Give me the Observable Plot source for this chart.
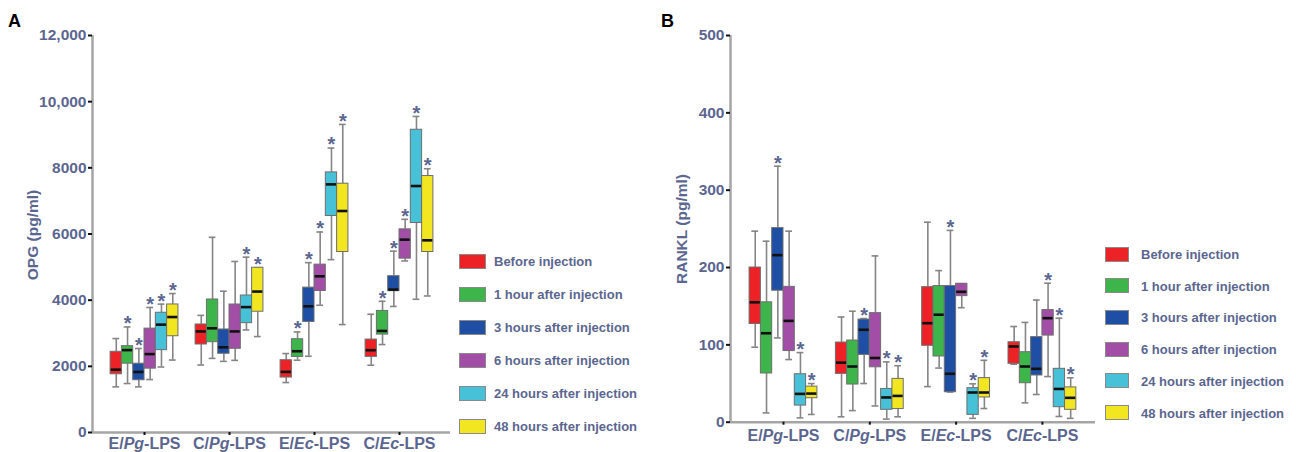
<!DOCTYPE html>
<html>
<head>
<meta charset="utf-8">
<script src="https://cdn.jsdelivr.net/npm/d3@7"></script>
<script src="https://cdn.jsdelivr.net/npm/@observablehq/plot@0.6"></script>
<style>
  html, body { margin: 0; padding: 0; background: #fff; }
  body { width: 1296px; height: 452px; position: relative; overflow: hidden;
         font-family: "Liberation Sans", Arial, Helvetica, sans-serif; }
  .abs { position: absolute; }
  .panel-letter { font-weight: bold; font-size: 18px; color: #000; line-height: 1; }
  .ytitle { font-weight: bold; font-size: 15.5px; color: #5b6690; white-space: nowrap;
            transform: translate(-50%, -50%) rotate(-90deg); line-height: 1; }
  .sw { border: 1px solid #8a8a8a; box-sizing: border-box; }
  .lt { font-weight: bold; font-size: 13px; color: #5b6690; white-space: nowrap; line-height: 1;
        transform: translateY(-50%); }
</style>
</head>
<body>
<script>
// ---------- data ----------
const groups = ["E/Pg-LPS", "C/Pg-LPS", "E/Ec-LPS", "C/Ec-LPS"];
const times = ["Before injection", "1 hour after injection", "3 hours after injection",
               "6 hours after injection", "24 hours after injection", "48 hours after injection"];
const timeColors = ["#ec2227", "#3db54a", "#1f4fa4", "#a24ea6", "#46c1d7", "#f2e620"];

// OPG (pg/ml), rows = groups, columns = time points
const opgTicks = [0, 2000, 4000, 6000, 8000, 10000, 12000];
const opgTickLabels = ["0", "2000", "4000", "6000", "8000", "10,000", "12,000"];
const opgLow = [
  [1380, 1480, 1380, 1600, 1980, 2190],
  [2040, 2240, 2150, 2180, 3100, 2900],
  [1510, 2185, 2305, 3846, 5225, 3262],
  [2034, 2658, 3810, 5185, 4027, 4127]];
const opgQ1 = [
  [1760, 2080, 1580, 1930, 2490, 2910],
  [2660, 2730, 2380, 2530, 3305, 3650],
  [1661, 2285, 3342, 4278, 6544, 5456],
  [2285, 2960, 4271, 5255, 6332, 5456]];
const opgMedian = [
  [1900, 2490, 1830, 2370, 3260, 3490],
  [3055, 3150, 2575, 3055, 3790, 4260],
  [1832, 2456, 3815, 4721, 7500, 6695],
  [2487, 3070, 4320, 5829, 7450, 5809]];
const opgQ3 = [
  [2440, 2610, 2080, 3140, 3620, 3870],
  [3265, 4020, 3114, 3869, 4141, 4980],
  [2185, 2819, 4379, 5074, 7862, 7520],
  [2809, 3675, 4725, 6141, 9151, 7752]];
const opgHigh = [
  [2840, 3190, 2540, 3780, 3880, 4200],
  [3540, 5900, 4270, 5170, 5300, 4980],
  [2386, 3040, 5134, 6060, 8597, 9312],
  [3574, 3966, 5481, 6443, 9554, 7973]];
const opgStar = [
  [0, 1, 1, 1, 1, 1],
  [0, 0, 0, 0, 1, 1],
  [0, 1, 1, 1, 1, 1],
  [0, 1, 1, 1, 1, 1]];

// RANKL (pg/ml)
const ranklTicks = [0, 100, 200, 300, 400, 500];
const ranklTickLabels = ["0", "100", "200", "300", "400", "500"];
const ranklLow = [
  [97, 12, 109, 81, 5.6, 10],
  [7, 15, 50, 21, 4, 7],
  [46, 70, 39, 148, 5, 17.7],
  [75, 25, 35.8, 59, 7.4, 5]];
const ranklQ1 = [
  [127, 63, 170, 92, 21.5, 31],
  [62.5, 48.7, 87, 71, 16, 17],
  [98.8, 85, 38.8, 163, 9.5, 32],
  [75.5, 50.4, 60.4, 112, 19.4, 16]];
const ranklMedian = [
  [155, 115, 216, 131, 36.6, 37],
  [77, 72, 119.5, 83, 32, 34],
  [128, 139, 62.6, 168.6, 38.4, 38.4],
  [97.9, 72, 69, 134.5, 43, 31.5]];
const ranklQ3 = [
  [200, 155, 251, 175, 62, 46],
  [103, 105.6, 132.7, 141, 43, 56],
  [174.6, 176, 176, 179, 44, 57],
  [103.4, 90.5, 110, 145, 69, 45]];
const ranklHigh = [
  [247, 234, 331, 247, 90, 50],
  [136, 143.5, 134, 215, 78, 73],
  [258.6, 196, 248, 179, 49.6, 80],
  [123.7, 129, 158, 179.7, 134.5, 57.4]];
const ranklStar = [
  [0, 0, 1, 0, 1, 1],
  [0, 0, 1, 0, 1, 1],
  [0, 0, 1, 0, 1, 1],
  [0, 0, 0, 1, 1, 1]];

// ---------- build ----------
const slate = "#5b6690";

function buildRows(lo, q1, med, q3, hi, star) {
  const out = [];
  groups.forEach((g, gi) => times.forEach((t, ti) => out.push({
    g, gi, t, ti, lo: lo[gi][ti], q1: q1[gi][ti], med: med[gi][ti],
    q3: q3[gi][ti], hi: hi[gi][ti], star: star[gi][ti]
  })));
  return out;
}

function panel(o) {
  const {data, yDomain, ticks, tickLabels, width, marginLeft, marginRight, marginTop,
         marginBottom, xDomain, boxW, tickPaddingX} = o;
  const xc = d => d.gi + (d.ti - 2.5) * boxW;
  const capW = boxW * 0.3;
  const svg = Plot.plot({
    width, height: 452, marginLeft, marginRight, marginTop, marginBottom,
    style: {fontFamily: "'Liberation Sans', Arial, Helvetica, sans-serif", background: "transparent", overflow: "visible"},
    x: {type: "linear", domain: xDomain},
    y: {type: "linear", domain: yDomain},
    color: {domain: times, range: timeColors},
    marks: [
      Plot.ruleX([xDomain[0]], {y1: yDomain[0], y2: yDomain[1], stroke: "#a5a5a5", strokeWidth: 2.5}),
      Plot.ruleY([yDomain[0]], {x1: xDomain[0], x2: xDomain[1], stroke: "#a5a5a5", strokeWidth: 2.5}),
      Plot.axisY({ticks, tickFormat: d => tickLabels[ticks.indexOf(d)], tickSize: 4, tickPadding: 2,
        stroke: "#111", strokeWidth: 2, fill: slate, fontSize: 15.5, fontWeight: "bold", label: null}),
      Plot.axisX({ticks: groups.map((g, i) => i), tickFormat: i => groups[i], tickSize: 3,
        tickPadding: tickPaddingX, stroke: "#111", strokeWidth: 2, fill: slate, fontSize: 16,
        fontWeight: "bold", label: null}),
      // whiskers
      Plot.ruleX(data, {x: xc, y1: "lo", y2: "q1", stroke: "#858585", strokeWidth: 1.6}),
      Plot.ruleX(data, {x: xc, y1: "q3", y2: "hi", stroke: "#858585", strokeWidth: 1.6}),
      Plot.ruleY(data, {y: "lo", x1: d => xc(d) - capW, x2: d => xc(d) + capW, stroke: "#858585", strokeWidth: 1.6}),
      Plot.ruleY(data, {y: "hi", x1: d => xc(d) - capW, x2: d => xc(d) + capW, stroke: "#858585", strokeWidth: 1.6}),
      // boxes
      Plot.rect(data, {x1: d => xc(d) - boxW / 2, x2: d => xc(d) + boxW / 2, y1: "q1", y2: "q3",
        fill: "t", stroke: "#6e6e6e", strokeWidth: 1}),
      // medians
      Plot.ruleY(data, {y: "med", x1: d => xc(d) - boxW / 2 + boxW * 0.05, x2: d => xc(d) + boxW / 2 - boxW * 0.05,
        stroke: "#111", strokeWidth: 2.6}),
      // significance stars
      Plot.text(data.filter(d => d.star), {x: xc, y: "hi", text: () => "*", lineAnchor: "middle",
        dy: -3, fontSize: 20, fontWeight: "bold", fill: slate})
    ]
  });
  // italic species abbreviations in x tick labels
  d3.select(svg).selectAll('[aria-label="x-axis tick label"] text').each(function () {
    const s = this.textContent;
    const m = s.match(/^(.*\/)(.*?)(-.*)$/);
    if (!m) return;
    const t = d3.select(this);
    t.text(null);
    t.append("tspan").text(m[1]);
    t.append("tspan").attr("font-style", "italic").text(m[2]);
    t.append("tspan").text(m[3]);
  });
  return svg;
}

function place(el, left, top) {
  el.style.position = "absolute";
  el.style.left = left + "px";
  el.style.top = top + "px";
  document.body.appendChild(el);
  return el;
}
function addDiv(cls, text, left, top, extra) {
  const d = document.createElement("div");
  d.className = "abs " + cls;
  d.textContent = text;
  d.style.left = left + "px";
  d.style.top = top + "px";
  if (extra) Object.assign(d.style, extra);
  document.body.appendChild(d);
  return d;
}
function legend(swLeft, swW, swH, textLeft, rowTop, rowStep) {
  times.forEach((t, i) => {
    const cy = rowTop + i * rowStep;
    const s = document.createElement("div");
    s.className = "abs sw";
    Object.assign(s.style, {left: swLeft + "px", top: (cy - swH / 2) + "px", width: swW + "px",
      height: swH + "px", background: timeColors[i]});
    document.body.appendChild(s);
    addDiv("lt", t, textLeft, cy);
  });
}

// Panel A: OPG
const svgA = panel({
  data: buildRows(opgLow, opgQ1, opgMedian, opgQ3, opgHigh, opgStar),
  yDomain: [0, 12000], ticks: opgTicks, tickLabels: opgTickLabels,
  width: 455, marginLeft: 92, marginRight: 5, marginTop: 35, marginBottom: 20,
  xDomain: [-0.612, 3.6], boxW: 0.133, tickPaddingX: 2
});
place(svgA, 0, 0);

// Panel B: RANKL
const svgB = panel({
  data: buildRows(ranklLow, ranklQ1, ranklMedian, ranklQ3, ranklHigh, ranklStar),
  yDomain: [0, 500], ticks: ranklTicks, tickLabels: ranklTickLabels,
  width: 450, marginLeft: 80, marginRight: 5, marginTop: 35, marginBottom: 30.3,
  xDomain: [-0.614, 3.615], boxW: 0.131, tickPaddingX: 4
});
place(svgB, 650, 0);

// panel letters, axis titles, legends
addDiv("panel-letter", "A", 8, 12);
addDiv("panel-letter", "B", 661, 12);
addDiv("ytitle", "OPG (pg/ml)", 33, 235);
addDiv("ytitle", "RANKL (pg/ml)", 682, 229);
legend(459, 27, 15, 494, 261, 33);
legend(1105, 24, 15, 1141, 254, 31.7);
</script>
</body>
</html>
